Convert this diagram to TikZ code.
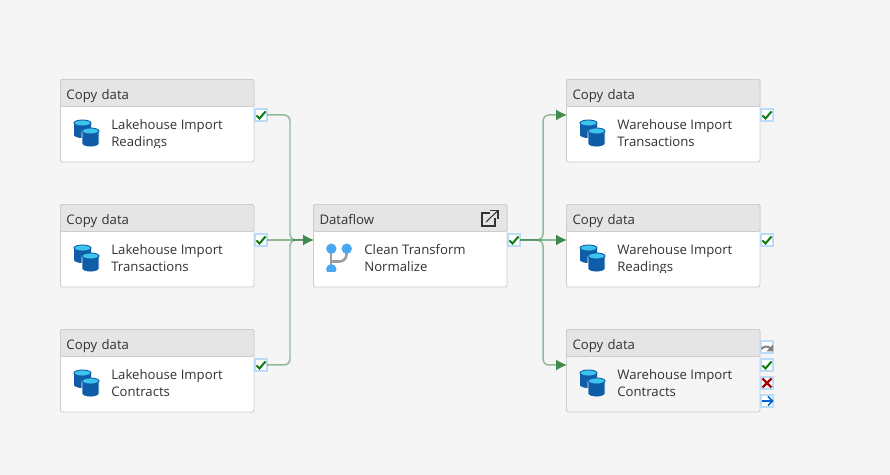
\documentclass[tikz,border=0pt]{standalone}
\usepackage{fontspec}
\setmainfont{Open Sans}
\usepackage{xcolor}
\usepackage{tikz}
\usetikzlibrary{arrows.meta}

\definecolor{canvasgray}{HTML}{F5F5F5}
\definecolor{boxedge}{HTML}{CDCDCD}
\definecolor{headgray}{HTML}{E5E5E5}
\definecolor{textgray}{HTML}{333333}
\definecolor{depgreen}{HTML}{3F8A4E}
\definecolor{okgreen}{HTML}{107C10}
\definecolor{portblue}{HTML}{BBDCF8}
\definecolor{dbblue}{HTML}{0F5CA8}
\definecolor{dbcyan}{HTML}{3CC4EA}
\definecolor{flowblue}{HTML}{4AA8F0}

\begin{document}
\begin{tikzpicture}[
    x=0.02cm,
    y=-0.02cm,
    activitybox/.style={
        draw=boxedge,
        fill=white,
        line width=0.5pt,
        rounded corners=0.04cm,
        anchor=north west,
        inner sep=0pt,
        outer sep=0pt,
        minimum width=3.87cm,
        minimum height=1.65cm
    },
    activityhead/.style={
        draw=boxedge,
        fill=headgray,
        line width=0.5pt,
        rounded corners=0.04cm,
        anchor=north west,
        inner ysep=0pt,
        inner xsep=0.12cm,
        outer sep=0pt,
        text width=3.63cm,
        minimum height=0.54cm,
        text height=7.5pt,
        text depth=0pt,
        text=textgray,
        font=\fontsize{7.5}{9}\selectfont
    },
    activitytext/.style={
        anchor=west,
        align=left,
        inner sep=0pt,
        text depth=2pt,
        text=textgray,
        font=\fontsize{7.5}{9.64}\selectfont
    },
    portbox/.style={
        draw=portblue,
        fill=white,
        line width=0.9pt,
        inner sep=0pt,
        outer sep=0pt,
        minimum size=0.24cm
    },
    depline/.style={
        draw=depgreen,
        draw opacity=0.55,
        line width=0.85pt,
        rounded corners=0.12cm
    },
    deptip/.style={
        draw=depgreen,
        line width=0.85pt,
        -{Latex[length=0.22cm,width=0.22cm]}
    },
    okmark/.pic={
        \draw[okgreen,line width=1.15pt] (-4.5,0.5) -- (-1.5,3.5) -- (4.5,-3.5);
    },
    cylinders/.pic={
        \fill[dbblue] (0,3) -- (0,15) arc[start angle=180,end angle=0,x radius=8.5,y radius=3] -- (17,3) -- cycle;
        \fill[dbcyan,draw=dbblue,line width=0.5pt] (8.5,3) ellipse[x radius=8.5,y radius=3];
        \fill[dbblue,draw=white,line width=0.5pt] (8,11) -- (8,24) arc[start angle=180,end angle=0,x radius=8.5,y radius=3] -- (25,11) -- cycle;
        \fill[dbcyan,draw=dbblue,line width=0.5pt] (16.5,11) ellipse[x radius=8.5,y radius=3];
    }
]

\useasboundingbox[fill=canvasgray] (0,0) rectangle (890,475);

% Lakehouse column
\node[activitybox] (lhReadings) at (60.5,79.5) {};
\node[activityhead] (lhReadingsHead) at (60.5,79.5) {Copy data};
\pic at (74,120) {cylinders};
\begin{scope}
\clip (100,107) rectangle (250,148);
\node[activitytext] (lhReadingsText) at (111,134.7) {Lakehouse Import\\Readings};
\end{scope}
\node[portbox] (lhReadingsPort) at (261,115) {};
\pic at (lhReadingsPort) {okmark};

\node[activitybox] (lhTransactions) at (60.5,204.5) {};
\node[activityhead] (lhTransactionsHead) at (60.5,204.5) {Copy data};
\pic at (74,245) {cylinders};
\node[activitytext] (lhTransactionsText) at (111,259.7) {Lakehouse Import\\Transactions};
\node[portbox] (lhTransactionsPort) at (261,240) {};
\pic at (lhTransactionsPort) {okmark};

\node[activitybox] (lhContracts) at (60.5,329.5) {};
\node[activityhead] (lhContractsHead) at (60.5,329.5) {Copy data};
\pic at (74,370) {cylinders};
\node[activitytext] (lhContractsText) at (111,384.7) {Lakehouse Import\\Contracts};
\node[portbox] (lhContractsPort) at (261,365) {};
\pic at (lhContractsPort) {okmark};

% Dataflow
\node[activitybox] (cleanFlow) at (313.5,204.5) {};
\node[activityhead] (cleanFlowHead) at (313.5,204.5) {Dataflow};
\begin{scope}
\clip (320,236) rectangle (360,272);
\draw[gray!75,line width=1.5pt] (331,249) -- (331,270);
\draw[gray!75,line width=1.5pt,rounded corners=0.14cm] (331,261.5) -- (346.5,261.5) -- (346.5,249);
\fill[flowblue] (331.3,248.7) circle[radius=5.2];
\fill[flowblue] (346.7,248.7) circle[radius=5.2];
\fill[flowblue] (331.3,269.3) circle[radius=5.2];
\end{scope}
\node[activitytext] (cleanFlowText) at (364,259.7) {Clean Transform\\Normalize};
\draw[textgray,line width=0.6pt] (490,213) -- (482,213) -- (482,226) -- (495,226) -- (495,218);
\draw[textgray,line width=0.6pt] (486,222) -- (498,210.5);
\draw[textgray,line width=0.6pt] (489.5,210.5) -- (498,210.5) -- (498,219);
\node[portbox] (cleanFlowPort) at (514,240) {};
\pic at (cleanFlowPort) {okmark};

% Warehouse column
\node[activitybox] (whTransactions) at (566.5,79.5) {};
\node[activityhead] (whTransactionsHead) at (566.5,79.5) {Copy data};
\pic at (580,120) {cylinders};
\node[activitytext] (whTransactionsText) at (617,134.7) {Warehouse Import\\Transactions};
\node[portbox] (whTransactionsPort) at (767,115) {};
\pic at (whTransactionsPort) {okmark};

\node[activitybox] (whReadings) at (566.5,204.5) {};
\node[activityhead] (whReadingsHead) at (566.5,204.5) {Copy data};
\pic at (580,245) {cylinders};
\begin{scope}
\clip (606,232) rectangle (756,273);
\node[activitytext] (whReadingsText) at (617,259.7) {Warehouse Import\\Readings};
\end{scope}
\node[portbox] (whReadingsPort) at (767,240) {};
\pic at (whReadingsPort) {okmark};

\node[activitybox,fill=canvasgray] (whContracts) at (566.5,329.5) {};
\node[activityhead] (whContractsHead) at (566.5,329.5) {Copy data};
\pic at (580,370) {cylinders};
\node[activitytext] (whContractsText) at (617,384.7) {Warehouse Import\\Contracts};

\node[portbox] (whContractsSkip) at (767,347) {};
\draw[gray,line width=1.1pt] (761.5,349) to[bend left=60] (771,349);
\fill[gray] (773,344.5) -- (773,351.5) -- (766.5,351.5) -- cycle;
\node[portbox] (whContractsOk) at (767,365) {};
\pic at (whContractsOk) {okmark};
\node[portbox] (whContractsFail) at (767,383) {};
\draw[red!65!black,line width=1.3pt] (762.5,378.5) -- (771.5,387.5);
\draw[red!65!black,line width=1.3pt] (771.5,378.5) -- (762.5,387.5);
\node[portbox] (whContractsDone) at (767,401) {};
\draw[blue!50!cyan!80!black,line width=0.9pt] (761.5,401) -- (772,401);
\draw[blue!50!cyan!80!black,line width=0.9pt] (768,396.5) -- (772.5,401) -- (768,405.5);

% Connectors
\coordinate (inBus) at (290,240);
\coordinate (cleanFlowIn) at (314,240);
\coordinate (cleanFlowTail) at (303,240);
\coordinate (outBus) at (543,240);
\coordinate (whTransactionsIn) at (567,115);
\coordinate (whTransactionsTail) at (556,115);
\coordinate (whReadingsIn) at (567,240);
\coordinate (whReadingsTail) at (556,240);
\coordinate (whContractsIn) at (567,365);
\coordinate (whContractsTail) at (556,365);

\draw[depline] (lhReadingsPort.east) -| (inBus) -- (cleanFlowTail);
\draw[depline] (lhTransactionsPort.east) -- (inBus) -- (cleanFlowTail);
\draw[depline] (lhContractsPort.east) -| (inBus) -- (cleanFlowTail);
\draw[deptip] (cleanFlowTail) -- (cleanFlowIn);

\draw[depline] (cleanFlowPort.east) -- (outBus) |- (whTransactionsTail);
\draw[depline] (cleanFlowPort.east) -- (whReadingsTail);
\draw[depline] (cleanFlowPort.east) -- (outBus) |- (whContractsTail);
\draw[deptip] (whTransactionsTail) -- (whTransactionsIn);
\draw[deptip] (whReadingsTail) -- (whReadingsIn);
\draw[deptip] (whContractsTail) -- (whContractsIn);

\end{tikzpicture}
\end{document}
